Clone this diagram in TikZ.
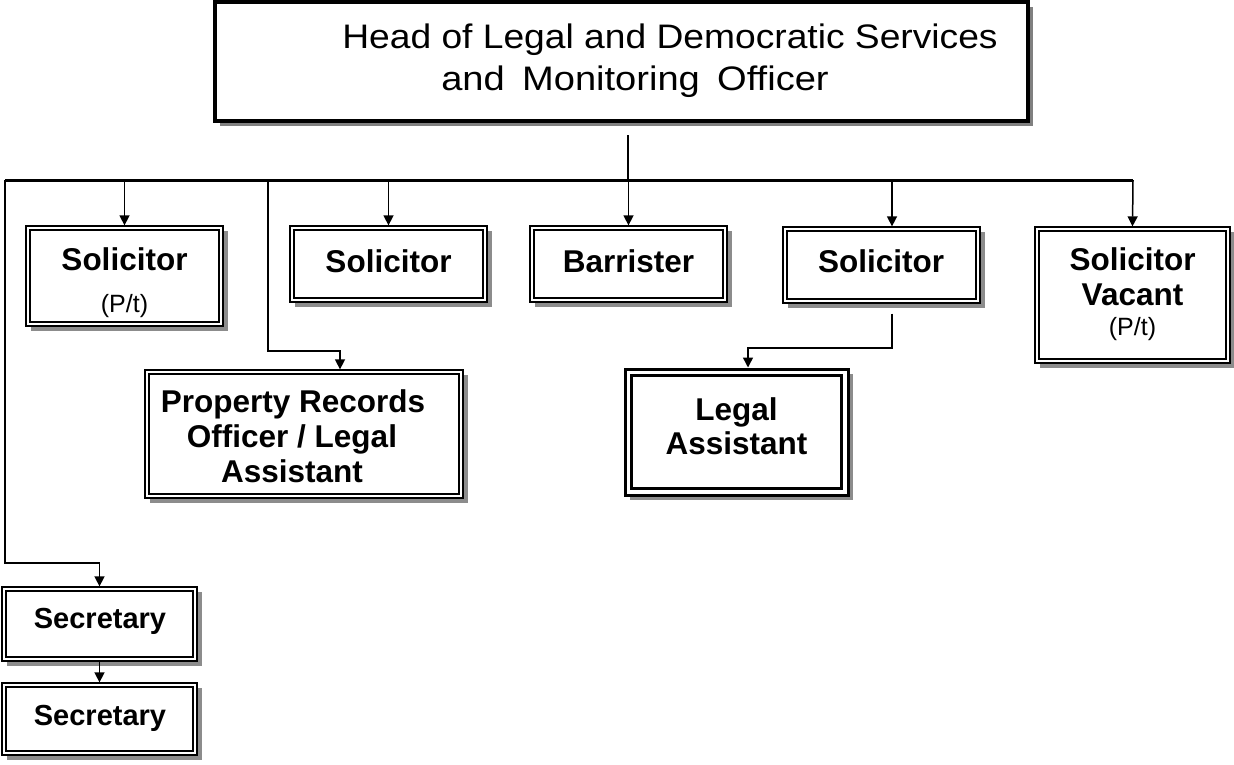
\documentclass[tikz,border=0pt]{standalone}
\usepackage{graphicx}
\usepackage{fontspec}
\setmainfont{Liberation Sans}
\usetikzlibrary{arrows.meta,shadows}
\newcommand\bxf{\bfseries\fontsize{31.5}{35}\selectfont}
\newcommand\smf{\fontsize{25}{30}\selectfont}
\newcommand\hdf{\fontsize{34}{40}\selectfont}
\newcommand\scf{\bfseries\fontsize{29}{34}\selectfont}
\begin{document}
\begin{tikzpicture}[x=1pt,y=-1pt,
  box/.style={draw=black, line width=1.3pt, fill=white, inner sep=0pt,
    drop shadow={shadow xshift=5pt, shadow yshift=-5pt, fill=black!45, opacity=1},
    path picture={\draw[line width=2.4pt] ([shift={(4pt,4pt)}]path picture bounding box.south west) rectangle ([shift={(-4pt,-4pt)}]path picture bounding box.north east);}},
  legalbox/.style={draw=black, line width=3pt, fill=white, inner sep=0pt,
    drop shadow={shadow xshift=5pt, shadow yshift=-5pt, fill=black!45, opacity=1},
    path picture={\draw[line width=3pt] ([shift={(6.5pt,6.5pt)}]path picture bounding box.south west) rectangle ([shift={(-6.5pt,-6.5pt)}]path picture bounding box.north east);}},
  headbox/.style={draw=black, line width=4.5pt, fill=white, inner sep=0pt,
    drop shadow={shadow xshift=5pt, shadow yshift=-5pt, fill=black!50, opacity=1}},
  txt/.style={anchor=base, inner sep=0pt},
  conn/.style={line width=1.5pt, -{Triangle[length=10pt,width=10pt]}},
  plain/.style={line width=1.5pt}
]
\useasboundingbox (0,0) rectangle (1234,764);

% head
\node[headbox, minimum width=813pt, minimum height=119pt] (head) at (621.5,61.5) {};
\node[txt, font=\hdf] (h1) at (670,48) {\scalebox{1.094}[1]{Head of Legal and Democratic Services}};
\node[txt, font=\hdf] (h2) at (635,90) {\scalebox{1.12}[1]{and\hspace{6pt} Monitoring\hspace{6pt} Officer}};

% boxes
\node[box, minimum width=197pt, minimum height=100pt] (sol1) at (124.5,276) {};
\node[box, minimum width=197pt, minimum height=76pt] (sol2) at (388.5,264) {};
\node[box, minimum width=197pt, minimum height=76pt] (bar) at (628.5,264) {};
\node[box, minimum width=197pt, minimum height=76pt] (sol3) at (881.5,265) {};
\node[box, minimum width=195pt, minimum height=136pt] (solv) at (1132.5,295) {};
\node[box, minimum width=318pt, minimum height=128pt] (prop) at (304,434) {};
\node[legalbox, minimum width=223pt, minimum height=126pt] (legal) at (736.5,432) {};
\node[box, minimum width=195pt, minimum height=74pt] (sec1) at (99.5,624) {};
\node[box, minimum width=195pt, minimum height=72pt] (sec2) at (99.5,719) {};

% texts
\node[txt, font=\bxf] (sol1a) at (124.5,270) {Solicitor};
\node[txt, font=\smf] (sol1b) at (124.5,312) {(P/t)};
\node[txt, font=\bxf] (sol2a) at (388.5,272) {Solicitor};
\node[txt, font=\bxf] (bara) at (628.5,272) {Barrister};
\node[txt, font=\bxf] (sol3a) at (881,272) {Solicitor};
\node[txt, font=\bxf] (solva) at (1132.5,270) {Solicitor};
\node[txt, font=\bxf] (solvb) at (1132.5,305) {Vacant};
\node[txt, font=\smf] (solvc) at (1132.5,335) {(P/t)};
\node[txt, font=\bxf] (propa) at (293,412) {Property Records};
\node[txt, font=\bxf] (propb) at (292,447) {Officer / Legal};
\node[txt, font=\bxf] (propc) at (292,482) {Assistant};
\node[txt, font=\bxf] (legala) at (736.5,420) {Legal};
\node[txt, font=\bxf] (legalb) at (736.5,454) {Assistant};
\node[txt, font=\scf] (sec1a) at (100,628) {Secretary};
\node[txt, font=\scf] (sec2a) at (100,725) {Secretary};

% connector points
\coordinate (hb) at ([xshift=6.5pt,yshift=-12pt]head.south);
\coordinate (bj) at (628,180);
\coordinate (bL) at (5,180);
\coordinate (bR) at (1133,180);
\coordinate (lc) at (5,563);
\coordinate (pj) at (268,180);
\coordinate (pk) at (268,351);
\coordinate (sk) at ([xshift=10.5pt,yshift=-10pt]sol3.south);
\coordinate (sl) at (892,348);

% connectors
\draw[plain] (hb) -- (bj);
\draw[line width=3pt] (bL) -- (bR);
\draw[line width=2.2pt] (bL) -- (lc) -- (lc -| sec1.north);
\draw[conn] (lc -| sec1.north) -- (sec1.north);
\draw[conn] (sol1.north |- bL) -- (sol1.north);
\draw[conn] (pj) -- (pk) -| ([xshift=36pt]prop.north);
\draw[conn] (sol2.north |- bL) -- (sol2.north);
\draw[conn] (bar.north |- bL) -- (bar.north);
\draw[conn] ([xshift=10.5pt]sol3.north |- bL) -- ([xshift=10.5pt]sol3.north);
\draw[conn] (bR) -- (solv.north);
\draw[conn] (sk) -- (sl) -| ([xshift=11.5pt]legal.north);
\draw[conn] (sec1.south) -- (sec2.north);
\end{tikzpicture}
\end{document}
